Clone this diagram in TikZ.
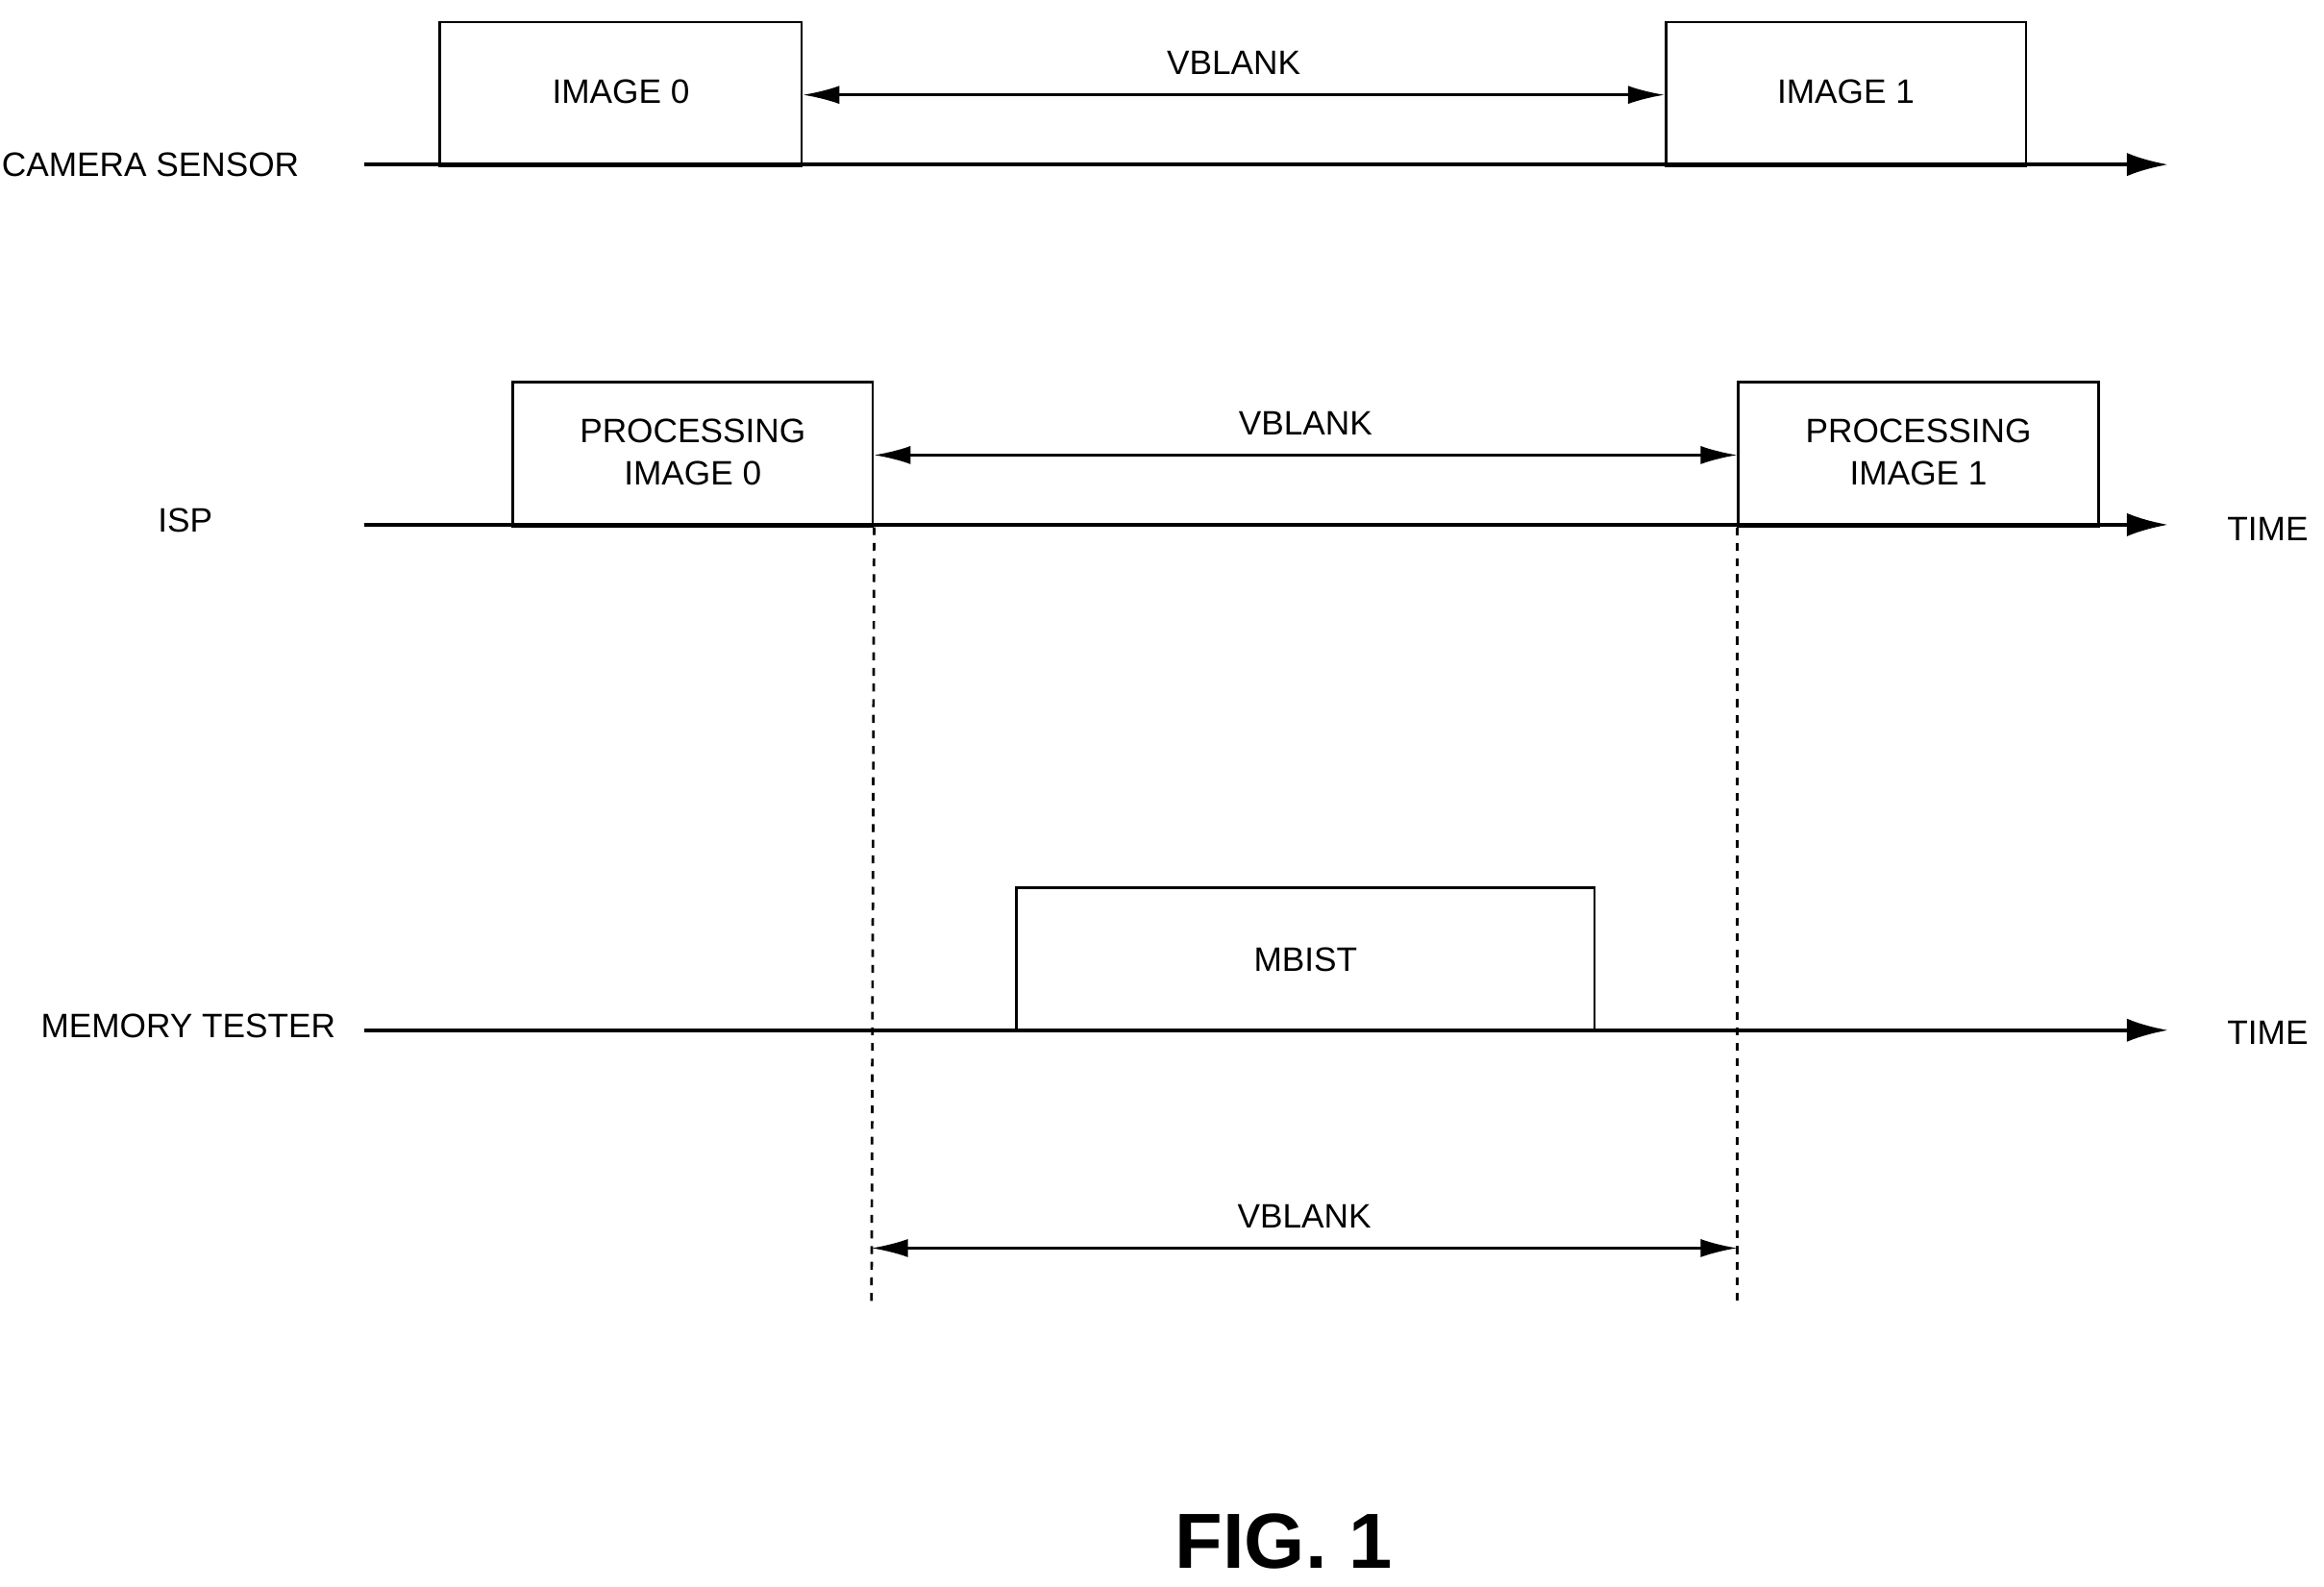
\documentclass[tikz,border=0pt]{standalone}
\usepackage{fontspec}
\setmainfont{Liberation Sans}
\usetikzlibrary{arrows.meta,positioning}
\tikzset{
  axis/.style={line width=1.6pt, -{Latex[length=16pt,width=9pt]}},
  blank/.style={line width=0.9pt, {Latex[length=14pt,width=7pt]}-{Latex[length=14pt,width=7pt]}},
  frame/.style={draw, line width=1pt, inner sep=0pt, anchor=north west},
  lbl/.style={font=\fontsize{13}{16}\selectfont, align=center},
  guide/.style={dashed, line width=1pt}
}
\begin{document}
\begin{tikzpicture}[x=0.02cm, y=-0.02cm]
        \useasboundingbox (0,0) rectangle (1568,1070);

        % camera sensor
        \node[lbl, left] (camlbl) at (208,111) {CAMERA SENSOR};
        \coordinate (cam0) at (246,111);
        \coordinate (cam1) at (1463,111);
        \draw[axis] (cam0) -- (cam1);
        \node[frame, minimum width=244*0.02cm, minimum height=97*0.02cm] (img0) at (296,14) {};
        \node[frame, minimum width=243*0.02cm, minimum height=97*0.02cm] (img1) at (1123,14) {};
        \node[lbl] at (img0.center |- 0,62) {IMAGE 0};
        \node[lbl] at (img1.center |- 0,62) {IMAGE 1};
        \draw[blank] (img0.east |- 0,64) -- (img1.west |- 0,64) node[lbl, midway, above=4pt] (vb1) {VBLANK};

        % isp
        \node[lbl] (isplbl) at (125,351) {ISP};
        \coordinate (isp0) at (246,354);
        \coordinate (isp1) at (1463,354);
        \draw[axis] (isp0) -- (isp1);
        \node[frame, minimum width=243*0.02cm, minimum height=97*0.02cm] (proc0) at (345,257) {};
        \node[frame, minimum width=243*0.02cm, minimum height=97*0.02cm] (proc1) at (1172,257) {};
        \node[lbl] at (proc0.center |- 0,305) {PROCESSING\\IMAGE 0};
        \node[lbl] at (proc1.center |- 0,305) {PROCESSING\\IMAGE 1};
        \draw[blank] (proc0.east |- 0,307) -- (proc1.west |- 0,307) node[lbl, midway, above=4pt] (vb2) {VBLANK};
        \node[lbl] (time1) at (1530,357) {TIME};

        % memory tester
        \node[lbl] (memlbl) at (127,692) {MEMORY TESTER};
        \coordinate (mem0) at (246,695);
        \coordinate (mem1) at (1463,695);
        \draw[axis] (mem0) -- (mem1);
        \node[frame, minimum width=390*0.02cm, minimum height=97*0.02cm] (mbist) at (685,598) {};
        \node[lbl] at (mbist.center) {MBIST};
        \node[lbl] (time2) at (1530,697) {TIME};

        % vblank guides
        \coordinate (g0) at (588,880);
        \coordinate (g1) at (1172,880);
        \draw[guide] (proc0.south east) -- (g0);
        \draw[guide] (proc1.south west) -- (g1);
        \draw[blank] (588,842) -- (1172,842) node[lbl, midway, above=4pt] (vb3) {VBLANK};

        \node[font=\bfseries\fontsize{30}{34}\selectfont] (fig) at (866,1040) {FIG. 1};
\end{tikzpicture}
\end{document}
